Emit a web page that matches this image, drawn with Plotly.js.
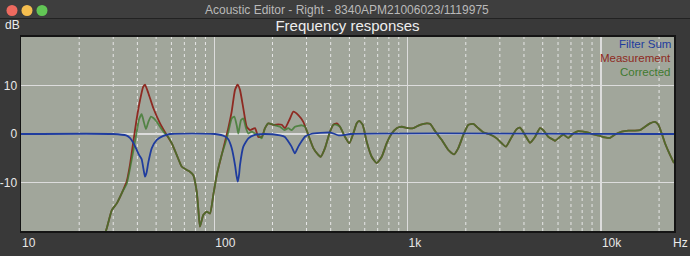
<!DOCTYPE html>
<html>
<head>
<meta charset="utf-8">
<script src="https://cdn.plot.ly/plotly-3.0.1.min.js"></script>
<style>
html,body{margin:0;padding:0;background:#393939;}
#chart{width:690px;height:256px;}
</style>
</head>
<body>
<div id="chart"></div>
<script>
// ---- data ----
const measFreq = [26.5, 27.8, 29.5, 31.3, 33.8, 35.2, 36.6, 38.1, 39.7, 41.3, 42.9, 43.8, 45.6, 48.4, 52.4, 56.7, 60.2, 63.9, 67.8, 72.0, 74.8, 77.9, 81.1, 82.6, 84.3, 87.7, 91.3, 95.0, 98.8, 102.9, 109.2, 113.6, 118.1, 123.0, 128.0, 132.2, 135.8, 141.3, 147.1, 153.0, 162.4, 168.9, 175.9, 182.9, 190.3, 202.0, 214.4, 223.3, 232.2, 246.4, 256.3, 272.0, 288.7, 306.4, 325.2, 345.1, 355.1, 373.8, 396.8, 412.6, 429.7, 446.9, 474.5, 499.4, 523.7, 545.4, 562.5, 585.8, 614.4, 652.1, 692.1, 734.5, 779.6, 827.6, 878.3, 932.2, 1008, 1070, 1159, 1256, 1306, 1387, 1501, 1624, 1739, 1829, 1942, 2062, 2188, 2322, 2464, 2669, 2891, 3068, 3229, 3456, 3667, 3815, 4049, 4297, 4561, 4841, 5035, 5344, 5672, 5787, 6142, 6389, 6781, 7197, 7639, 8110, 8607, 9134, 9893, 10500, 11150, 11830, 12810, 13870, 15010, 15930, 16910, 17950, 19050, 19820, 20640, 21460, 22780, 23890];
const measDb = [-22, -19.4, -15.7, -14.3, -11.5, -9.8, -6.4, -1.6, 3.2, 7.0, 9.75, 10.2, 8.4, 5.3, 2.2, -0.2, -1.9, -4.3, -6.7, -7.4, -7.8, -8.5, -11.9, -15.3, -19.1, -16.7, -16.0, -16.4, -12.6, -8.5, -4.3, -1.6, 1.2, 4.6, 9.1, 10.2, 9.1, 5.3, 1.5, 0.8, 1.2, -0.6, -0.6, 1.2, 2.2, 1.9, 2.0, 1.9, 1.2, 3.2, 4.6, 3.9, 2.5, -0.2, -2.9, -4.3, -4.7, -2.9, 0.5, 1.9, 2.2, 1.5, -0.6, -1.9, 0.1, 2.2, 2.7, 1.9, -1.6, -4.7, -6.0, -4.7, -1.9, 0.1, 1.2, 1.5, 1.2, 1.2, 1.9, 2.2, 2.1, 0.6, -1.2, -3.3, -4.2, -2.9, -0.2, 1.9, 2.1, 1.2, 0.35, -0.1, -0.9, -1.9, -2.6, -0.6, 1.0, 1.3, -0.2, -1.8, -0.6, 1.2, 0.8, -0.6, -1.2, -1.4, -0.6, -0.1, -0.8, 0.1, 0.6, 0.5, 0.3, -0.1, -0.4, -0.7, -0.8, -0.1, 0.5, 0.7, 0.7, 0.8, 1.5, 2.2, 2.5, 1.9, 0.1, -1.9, -4.3, -6.0];

const corrFreq = [26.5, 27.8, 29.5, 31.3, 33.8, 35.2, 36.6, 38.1, 39.7, 40.8, 42.1, 43.0, 44.3, 45.7, 47.0, 48.4, 50.4, 54.5, 57.8, 60.2, 63.9, 67.8, 72.0, 74.8, 77.9, 81.1, 82.6, 84.3, 87.7, 91.3, 95.0, 98.8, 102.9, 109.2, 113.6, 118.1, 123.0, 126.9, 130.6, 133.1, 137.5, 141.3, 145.9, 149.9, 156.1, 162.4, 168.9, 175.9, 182.9, 190.3, 206.1, 218.8, 230.2, 241.4, 251.4, 261.5, 283.4, 294.6, 306.4, 325.2, 345.1, 355.1, 373.8, 396.8, 412.6, 429.7, 446.9, 474.5, 499.4, 523.7, 545.4, 562.5, 585.8, 614.4, 652.1, 692.1, 734.5, 779.6, 827.6, 878.3, 932.2, 1008, 1070, 1159, 1256, 1306, 1387, 1501, 1624, 1739, 1829, 1942, 2062, 2188, 2322, 2464, 2669, 2891, 3068, 3229, 3456, 3667, 3815, 4049, 4297, 4561, 4841, 5035, 5344, 5672, 5787, 6142, 6389, 6781, 7197, 7639, 8110, 8607, 9134, 9893, 10500, 11150, 11830, 12810, 13870, 15010, 15930, 16910, 17950, 19050, 19820, 20640, 21460, 22780, 23890];
const corrDb = [-22, -19.4, -15.7, -14.3, -11.6, -10.3, -7.2, -3.5, 0.5, 3.0, 4.1, 2.8, 1.0, 2.6, 3.6, 3.3, 2.5, 0.5, -0.6, -1.9, -4.3, -6.7, -7.4, -7.8, -8.5, -11.9, -15.3, -19.1, -16.7, -16.0, -16.4, -12.6, -8.5, -4.3, -2.1, 0.3, 3.2, 3.6, 1.8, 0.1, 2.9, 3.2, 1.2, 0.1, 0.5, 0.1, -0.2, -0.9, 1.2, 2.2, 1.8, 1.5, 0.8, 1.2, 0.8, 1.5, 1.8, 1.5, -0.2, -2.9, -4.3, -4.7, -2.9, 0.5, 1.9, 1.9, 1.5, -0.6, -1.9, 0.1, 2.2, 2.7, 1.9, -1.6, -4.7, -6.0, -4.7, -1.9, 0.1, 1.2, 1.5, 1.2, 1.2, 1.9, 2.2, 2.1, 0.6, -1.2, -3.3, -4.2, -2.9, -0.2, 1.9, 2.1, 1.2, 0.35, -0.1, -0.9, -1.9, -2.6, -0.6, 1.0, 1.3, -0.2, -1.8, -0.6, 1.2, 0.8, -0.6, -1.2, -1.4, -0.6, -0.1, -0.8, 0.1, 0.6, 0.5, 0.3, -0.1, -0.4, -0.7, -0.8, -0.1, 0.5, 0.7, 0.7, 0.8, 1.5, 2.2, 2.5, 1.9, 0.1, -1.9, -4.3, -6.0];

const filtFreq = [10, 30, 35, 36.6, 38.1, 39.7, 40.8, 42.1, 43.0, 43.8, 44.6, 45.6, 47.5, 50.4, 54.5, 58.9, 101, 113.6, 118.1, 123.0, 128.0, 130.2, 132.2, 134.4, 135.8, 141.3, 150, 162, 183, 219, 232, 241, 251, 261, 272, 283, 295, 316, 400, 440, 508, 23890];
const filtDb = [0, 0, -0.3, -0.8, -1.8, -3.3, -4.3, -5.2, -7.2, -8.8, -8.0, -5.8, -2.9, -1.2, -0.4, 0, 0, -0.5, -1.1, -2.9, -6.4, -8.5, -9.8, -8.3, -6.4, -2.6, -0.9, -0.2, 0, -0.3, -0.6, -1.5, -2.6, -4.0, -2.6, -1.5, -0.5, 0, 0.3, -0.3, 0, 0];

const xTickVals = [10, 100, 1000, 10000];
const xTickText = ['10', '100', '1k', '10k'];
const yTickVals = [-10, 0, 10];
const yTickText = ['-10', '0', '10'];
const minorGridFreqs = [20, 30, 40, 50, 60, 70, 80, 90, 200, 300, 400, 500, 600, 700, 800, 900, 2000, 3000, 4000, 5000, 6000, 7000, 8000, 9000, 20000];
const seriesNames = ['Filter Sum', 'Measurement', 'Corrected'];

// ---- layout helpers (pixel -> paper) ----
const W = 690, H = 256, ML = 21, MR = 16, MT = 37, MB = 25;
const PW = W - ML - MR, PH = H - MT - MB;
const px = x => (x - ML) / PW;
const py = y => (H - MB - y) / PH;

const FONT = 'Liberation Sans, Arial, Helvetica, sans-serif';
const COL_BLUE = '#1f3c9e', COL_RED = '#8e2a22', COL_GREEN = '#3f7a2f';

const traces = [
  {x: measFreq, y: measDb, name: seriesNames[1], type: 'scatter', mode: 'lines',
   line: {color: COL_RED, width: 1.8, shape: 'spline', smoothing: 0.5}},
  {x: corrFreq, y: corrDb, name: seriesNames[2], type: 'scatter', mode: 'lines', opacity: 0.8,
   line: {color: COL_GREEN, width: 1.8, shape: 'spline', smoothing: 0.5}},
  {x: filtFreq, y: filtDb, name: seriesNames[0], type: 'scatter', mode: 'lines',
   line: {color: COL_BLUE, width: 1.8, shape: 'spline', smoothing: 0.5}}
];

const shapes = [];
// window title bar
shapes.push({type: 'rect', xref: 'paper', yref: 'paper', x0: px(0), x1: px(W), y0: py(0), y1: py(18),
  fillcolor: '#3e3e3e', line: {width: 0}, layer: 'below'});
shapes.push({type: 'line', xref: 'paper', yref: 'paper', x0: px(0), x1: px(W), y0: py(18.5), y1: py(18.5),
  line: {color: '#222222', width: 1}, layer: 'below'});
// traffic lights
[[12, '#ee6a5f'], [27, '#f5be4f'], [42, '#62c655']].forEach(([cx, c]) => {
  const r = 5.5, cy = 10.5;
  shapes.push({type: 'circle', xref: 'paper', yref: 'paper',
    x0: px(cx - r), x1: px(cx + r), y0: py(cy + r), y1: py(cy - r),
    fillcolor: c, line: {width: 0}});
});
// minor vertical grid lines
minorGridFreqs.forEach(f => {
  shapes.push({type: 'line', xref: 'x', yref: 'paper', x0: f, x1: f, y0: 0, y1: 1,
    line: {color: '#e6e6e6', width: 1, dash: 'dot'}, layer: 'below'});
});

const annotations = [
  {text: 'Acoustic Editor - Right - 8340APM21006023/1119975', xref: 'paper', yref: 'paper',
   x: px(347), y: py(10), xanchor: 'center', yanchor: 'middle', showarrow: false,
   font: {family: FONT, size: 12, color: '#b9b9b9'}},
  {text: 'dB', xref: 'paper', yref: 'paper', x: px(3), y: py(25), xanchor: 'left', yanchor: 'middle',
   showarrow: false, font: {family: FONT, size: 12, color: '#ececec'}},
  {text: 'Hz', xref: 'paper', yref: 'paper', x: px(689), y: py(243), xanchor: 'right', yanchor: 'middle',
   showarrow: false, borderpad: 0, font: {family: FONT, size: 12, color: '#ececec'}},
  {text: seriesNames[0], xref: 'paper', yref: 'paper', x: px(673), y: py(44), xanchor: 'right', yanchor: 'middle',
   showarrow: false, font: {family: FONT, size: 11.5, color: COL_BLUE}},
  {text: seriesNames[1], xref: 'paper', yref: 'paper', x: px(673), y: py(58), xanchor: 'right', yanchor: 'middle',
   showarrow: false, font: {family: FONT, size: 11.5, color: COL_RED}},
  {text: seriesNames[2], xref: 'paper', yref: 'paper', x: px(673), y: py(72), xanchor: 'right', yanchor: 'middle',
   showarrow: false, font: {family: FONT, size: 11.5, color: COL_GREEN}}
];

const layout = {
  width: W, height: H,
  margin: {l: ML, r: MR, t: MT, b: MB, pad: 0},
  paper_bgcolor: '#393939',
  plot_bgcolor: '#a1a69b',
  showlegend: false,
  title: {text: 'Frequency responses', xref: 'paper', x: 0.5, xanchor: 'center',
          yref: 'container', y: 1 - 26 / H, yanchor: 'middle',
          font: {family: FONT, size: 15, color: '#eeeeee'}},
  xaxis: {type: 'log', range: [1, 1 + PW / 193.3], tickvals: xTickVals, ticktext: xTickText,
          ticks: '', showgrid: true, gridcolor: '#dcdcdc', gridwidth: 1.5, zeroline: false,
          showline: true, mirror: true, linecolor: '#141414', linewidth: 2,
          ticklabelposition: 'outside right',
          tickfont: {family: FONT, size: 12, color: '#e8e8e8'}, fixedrange: true},
  yaxis: {range: [-20, 20], tickvals: yTickVals, ticktext: yTickText, ticks: '',
          showgrid: true, gridcolor: '#dcdcdc', gridwidth: 1.5, zeroline: false,
          showline: true, mirror: true, linecolor: '#141414', linewidth: 1.5,
          tickfont: {family: FONT, size: 12, color: '#e8e8e8'}, fixedrange: true},
  shapes: shapes,
  annotations: annotations
};

Plotly.newPlot('chart', traces, layout, {staticPlot: true, displayModeBar: false});
</script>
</body>
</html>
